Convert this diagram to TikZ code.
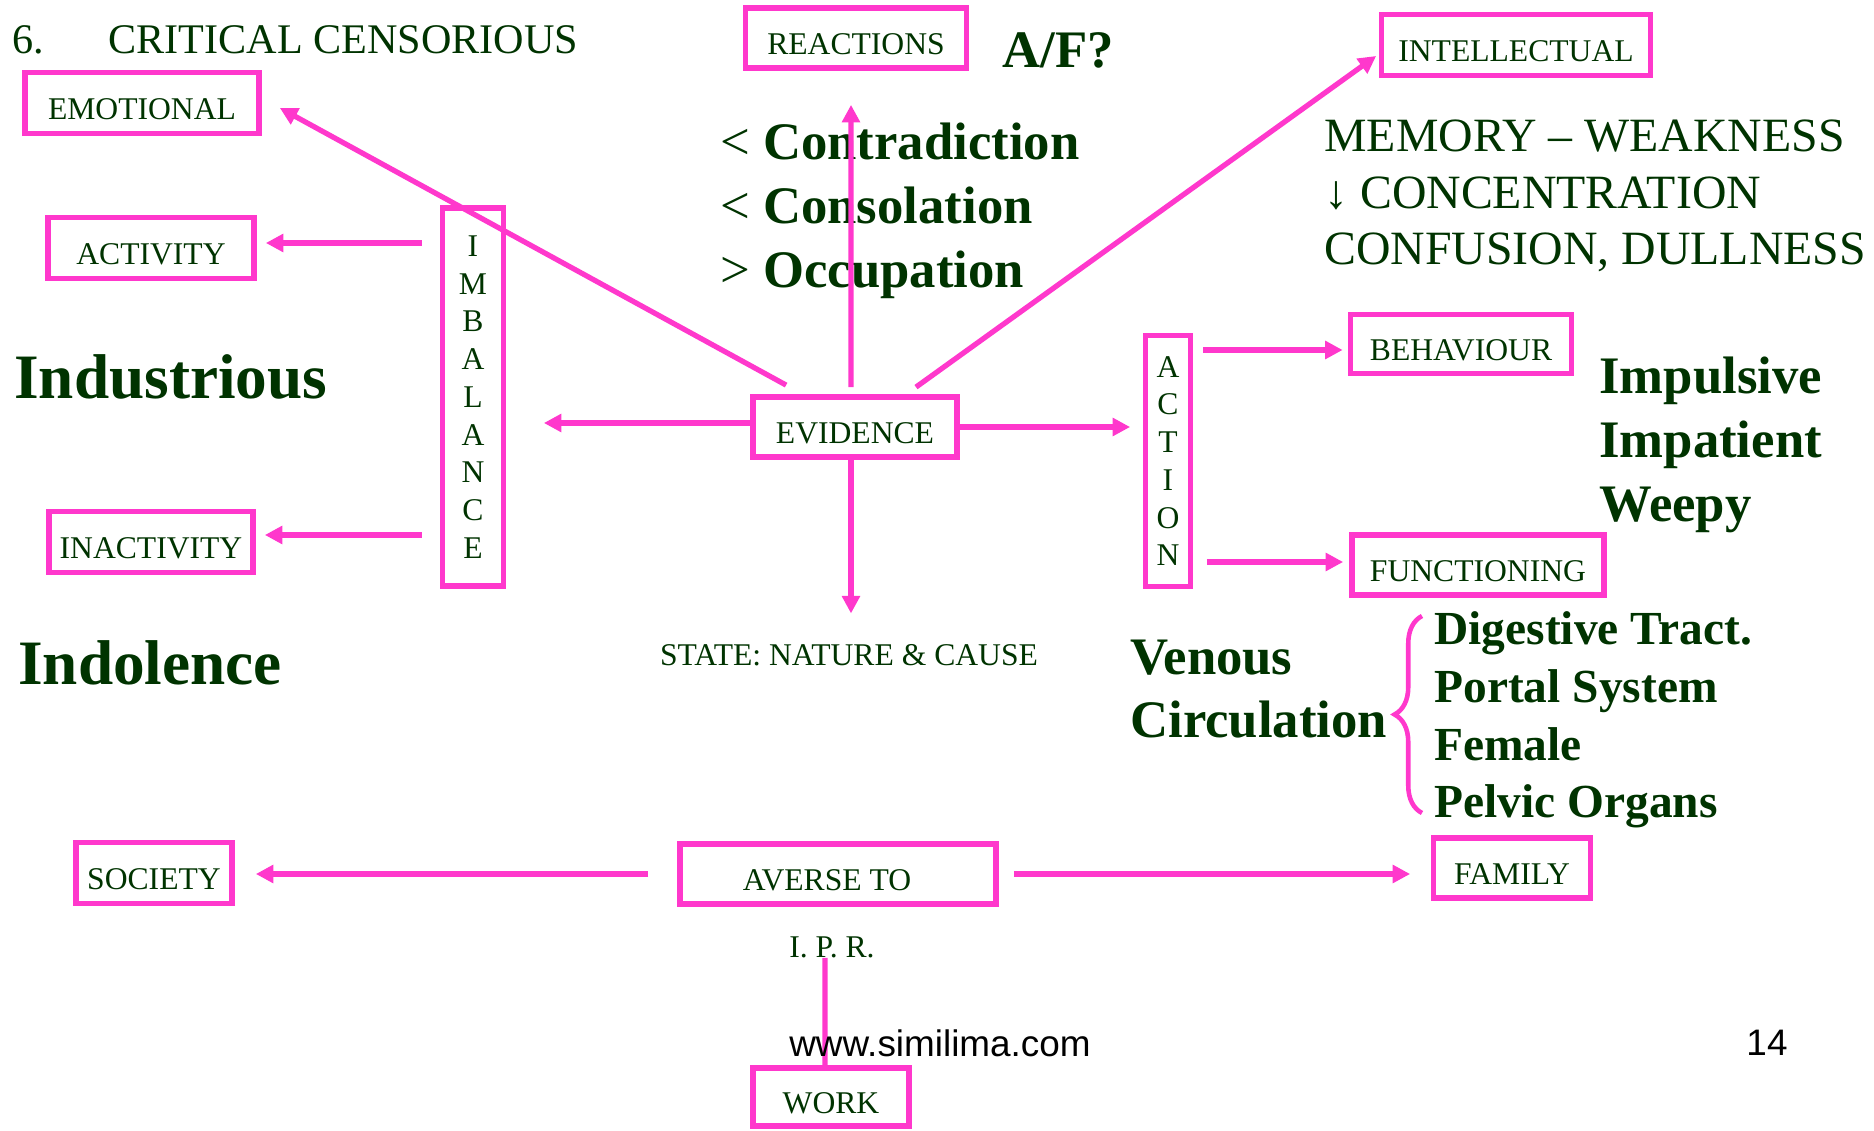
\documentclass[tikz,border=0pt]{standalone}
\usepackage{fontspec}
\setmainfont{Liberation Serif}
\setsansfont{Liberation Sans}
\usepackage{tikz}
\usetikzlibrary{arrows.meta,decorations.pathreplacing}
\definecolor{boxpink}{RGB}{255,56,204}
\definecolor{textgreen}{RGB}{0,51,0}
\newcommand{\labelSize}[0]{\fontsize{18}{21.5}\selectfont}
\newcommand{\titleSize}[0]{\fontsize{24}{28}\selectfont}
\newcommand{\memoSize}[0]{\fontsize{27.2}{32.3}\selectfont}
\newcommand{\listSize}[0]{\fontsize{30}{36.6}\selectfont\bfseries}
\newcommand{\traitSize}[0]{\fontsize{30}{36.3}\selectfont\bfseries}
\newcommand{\organSize}[0]{\fontsize{27}{32.9}\selectfont\bfseries}
\newcommand{\bigSize}[0]{\fontsize{36}{40}\selectfont\bfseries}
\newcommand{\webSize}[0]{\sffamily\fontsize{21}{24}\selectfont}

\begin{document}
\begin{tikzpicture}[x=0.02cm, y=-0.02cm]
  \tikzset{every node/.style={text=textgreen, inner sep=0pt},
           frame/.style={draw=boxpink, line width=3.3pt, font=\labelSize, align=center},
           boxlabel/.style={frame, text height=18.7pt, text depth=0pt},
           link/.style={draw=boxpink, line width=3pt, -{Triangle[length=10pt,width=10pt]}}}
  \useasboundingbox (0,0) rectangle (1874,1131);
  \node[anchor=base west, font=\titleSize](num) at (12,54) {6.};
  \node[anchor=base west, font=\titleSize](title) at (108,54) {CRITICAL CENSORIOUS};
  \node[boxlabel, minimum width=4.68cm, minimum height=1.22cm](emo) at (142,103) {EMOTIONAL};
  \node[boxlabel, minimum width=4.12cm, minimum height=1.22cm](act) at (151,248) {ACTIVITY};
  \node[frame, minimum width=1.22cm, minimum height=7.56cm](imb) at (473,397) {I\\M\\B\\A\\L\\A\\N\\C\\E};
  \node[boxlabel, minimum width=4.08cm, minimum height=1.22cm](inact) at (151,542) {INACTIVITY};
  \node[boxlabel, minimum width=4.42cm, minimum height=1.2cm](react) at (856,38) {REACTIONS};
  \node[boxlabel, minimum width=4.08cm, minimum height=1.2cm](evid) at (855,427) {EVIDENCE};
  \node[boxlabel, minimum width=5.38cm, minimum height=1.22cm](intel) at (1516,45) {INTELLECTUAL};
  \node[frame, minimum width=0.9cm, minimum height=5.02cm](action) at (1168,461) {A\\C\\T\\I\\O\\N};
  \node[boxlabel, minimum width=4.42cm, minimum height=1.18cm](behav) at (1461,344) {BEHAVIOUR};
  \node[boxlabel, minimum width=5.04cm, minimum height=1.2cm](func) at (1478,565) {FUNCTIONING};
  \node[boxlabel, minimum width=3.12cm, minimum height=1.22cm](soc) at (154,873) {SOCIETY};
  \node[boxlabel, minimum width=6.32cm, minimum height=1.2cm](aver) at (838,874) {AVERSE TO\hspace*{0.44cm}};
  \node[boxlabel, minimum width=3.14cm, minimum height=1.2cm](fam) at (1512,868) {FAMILY};
  \node[boxlabel, minimum width=3.12cm, minimum height=1.16cm](work) at (831,1097) {WORK};

  \node[anchor=west, font=\bigSize](indus) at (14,377) {Industrious};
  \node[anchor=west, font=\bigSize](indol) at (18,663) {Indolence};
  \node[anchor=west, font=\traitSize](af) at (1002,50) {A/F?};
  \node[anchor=west, align=left, font=\listSize](cons) at (720,211) {{\mdseries <} Contradiction\\{\mdseries <} Consolation\\{\mdseries >} Occupation};
  \node[anchor=west, align=left, font=\memoSize](memo) at (1324,196) {MEMORY -- WEAKNESS\\↓ CONCENTRATION\\CONFUSION, DULLNESS};
  \node[anchor=west, align=left, font=\traitSize](traits) at (1599,445) {Impulsive\\Impatient\\Weepy};
  \node[anchor=west, align=left, font=\traitSize](venous) at (1130,689) {Venous\\Circulation};
  \node[anchor=west, align=left, font=\organSize](organs) at (1434,720) {Digestive Tract.\\Portal System\\Female\\Pelvic Organs};
  \node[font=\labelSize](state) at (849,655) {STATE: NATURE \& CAUSE};
  \node[font=\labelSize](ipr) at (832,947) {I. P. R.};

  \draw[link] ([xshift=0.72cm,yshift=0.18cm]evid.north west) -- ([xshift=0.36cm,yshift=-0.1cm]emo.east);
  \draw[link] ([xshift=-0.08cm,yshift=0.14cm]evid.north) -- ([xshift=-0.1cm,yshift=-0.68cm]react.south);
  \draw[link] ([xshift=1.22cm,yshift=0.14cm]evid.north) -- ([xshift=-0.05cm,yshift=-0.22cm]intel.west);
  \draw[link, shorten >=0.75cm] ([yshift=0.08cm]evid.west) -- ([yshift=0.08cm]evid.west -| imb.east);
  \draw[link, shorten >=0.25cm] (evid.east) -- (evid.east -| action.west);
  \draw[link, shorten >=0.61cm] ([xshift=-0.08cm]evid.south) -- ([xshift=-0.08cm]evid.south |- state.north);
  \draw[link, shorten <=0.36cm, shorten >=0.18cm] ([yshift=0.1cm]act.east -| imb.west) -- ([yshift=0.1cm]act.east);
  \draw[link, shorten <=0.36cm, shorten >=0.18cm] ([yshift=0.14cm]inact.east -| imb.west) -- ([yshift=0.14cm]inact.east);
  \draw[link, shorten <=0.2cm, shorten >=0.1cm] ([yshift=-0.12cm]behav.west -| action.east) -- ([yshift=-0.12cm]behav.west);
  \draw[link, shorten <=0.27cm, shorten >=0.12cm] ([yshift=0.06cm]func.west -| action.east) -- ([yshift=0.06cm]func.west);
  \draw[link, shorten <=0.58cm, shorten >=0.42cm] (aver.west) -- (aver.west -| soc.east);
  \draw[link, shorten <=0.3cm, shorten >=0.41cm] (aver.east) -- (aver.east -| fam.west);
  \draw[boxpink, line width=3pt] ([xshift=-0.14cm]ipr.south) -- ([xshift=-0.12cm]work.north);
  \draw[boxpink, line width=2.6pt, decorate, decoration={brace, amplitude=0.55cm}] (1422,813) -- (1422,616);

  \node[anchor=west, font=\webSize, text=black](www) at (789,1043) {www.similima.com};
  \node[font=\webSize, text=black](page) at (1767,1043) {14};
\end{tikzpicture}
\end{document}
